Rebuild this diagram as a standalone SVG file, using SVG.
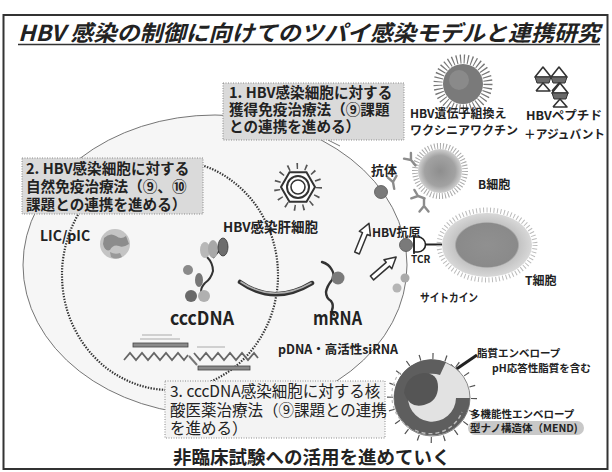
<svg xmlns="http://www.w3.org/2000/svg" width="612" height="472" viewBox="0 0 612 472">
  <style>
    .jp { font-family: "Noto Sans CJK JP", "Liberation Sans", sans-serif; fill: #222; }
    .box-text { font-size: 14.6px; font-weight: 700; }
    .lbl { font-size: 12px; font-weight: 700; }
    .small { font-size: 10.5px; font-weight: 700; }
    .box-grey { fill: #dadada; stroke: #8a8a8a; stroke-width: 1; stroke-dasharray: 1 1.5; }
    .box-light { fill: #f3f3f3; stroke: #8a8a8a; stroke-width: 1; stroke-dasharray: 1 1.5; }
    .ab { fill: none; stroke: #8c8c8c; stroke-width: 2.4; stroke-linecap: round; }
    .harrow { fill: #fff; stroke: #333; stroke-width: 1.5; stroke-linejoin: round; }
    .pep-tri { fill: #fff; stroke: #333; stroke-width: 1.6; stroke-linejoin: round; }
    .pep-band { fill: #6a6a6a; stroke: #333; stroke-width: 1; }
  </style>
  <defs>
    <path id="hollow-arrow" d="M-2.5,0 L-2.5,-21 L-6,-21 L0,-32 L6,-21 L2.5,-21 L2.5,0 Z"/>
    <path id="antibody" d="M0,7 L0,0 M0,0 L-4.5,-5.5 M0,0 L4.5,-5.5"/>
    <g id="peptide">
      <polygon class="pep-tri" points="-8,-3 0,-13 8,-3"/>
      <polygon class="pep-band" points="-8,-3 8,-3 6,3 -6,3"/>
      <polyline class="pep-tri" points="-7,11 0,3 7,11 -7,11"/>
    </g>
    <radialGradient id="cell-b" cx="0.5" cy="0.5" r="0.5">
      <stop offset="0" stop-color="#8e8e8e"/>
      <stop offset="0.7" stop-color="#a2a2a2"/>
      <stop offset="1" stop-color="#cfcfcf"/>
    </radialGradient>
    <radialGradient id="cell-t" cx="0.5" cy="0.5" r="0.5">
      <stop offset="0" stop-color="#909090"/>
      <stop offset="0.68" stop-color="#8a8a8a"/>
      <stop offset="0.72" stop-color="#c4c4c4"/>
      <stop offset="1" stop-color="#d8d8d8"/>
    </radialGradient>
  </defs>

  <rect x="0" y="0" width="612" height="472" fill="#fff"/>

  <!-- outer frame and title -->
  <rect x="3.5" y="15" width="604" height="454" fill="none" stroke="#333" stroke-width="2"/>
  <g id="title">
    <text class="jp" x="18" y="41" font-size="22" font-weight="700" font-style="italic" textLength="582" lengthAdjust="spacingAndGlyphs" fill="#333">HBV 感染の制御に向けてのツパイ感染モデルと連携研究</text>
    <line x1="18" y1="44.5" x2="600" y2="44.5" stroke="#333" stroke-width="1.6"/>
  </g>

  <!-- hepatocyte membrane and nucleus -->
  <g id="hepatocyte">
    <ellipse cx="215" cy="265" rx="192" ry="150" fill="#f6f6f6" stroke="#666" stroke-width="0.9"/>
    <ellipse cx="170" cy="275" rx="108" ry="115" fill="none" stroke="#333" stroke-width="2.2" stroke-dasharray="1.4 1.4"/>
  </g>

  <!-- connectors -->
  <g id="connectors">
    <path d="M240,282 Q274,306 312,283" fill="none" stroke="#333" stroke-width="4.5" stroke-linecap="round"/>
    <path d="M241,282 Q274,304 311,283" fill="none" stroke="#b0b0b0" stroke-width="1.6" stroke-linecap="round"/>
    <use href="#hollow-arrow" class="harrow" transform="translate(357,253) rotate(22)"/>
    <use href="#hollow-arrow" class="harrow" transform="translate(372,278) rotate(49)"/>
    <line x1="328" y1="140" x2="340" y2="146" stroke="#555" stroke-width="0.8"/>
    <path d="M477,355 L455,370" stroke="#222" stroke-width="3"/>
    <polygon points="446,376 451,364 460,372" fill="#222"/>
  </g>

  <!-- box 1 -->
  <g id="box1">
    <rect class="box-grey" x="223" y="83" width="181" height="57"/>
    <text class="jp box-text" x="229" y="98">1. HBV感染細胞に対する</text>
    <text class="jp box-text" x="229" y="115">獲得免疫治療法（⑨課題</text>
    <text class="jp box-text" x="229" y="132">との連携を進める）</text>
  </g>

  <!-- box 2 -->
  <g id="box2">
    <rect class="box-grey" x="22" y="158" width="181" height="56"/>
    <text class="jp box-text" x="26" y="174">2. HBV感染細胞に対する</text>
    <text class="jp box-text" x="26" y="192">自然免疫治療法（⑨、⑩</text>
    <text class="jp box-text" x="26" y="210">課題との連携を進める）</text>
  </g>

  <!-- vaccinia vaccine -->
  <g id="vaccinia">
    <circle cx="463" cy="84" r="25" fill="none" stroke="#777" stroke-width="9" stroke-dasharray="1.2 2.6"/>
    <circle cx="463" cy="84" r="20" fill="#7a7a7a"/>
    <circle cx="459" cy="80" r="10" fill="#8a8a8a"/>
    <text class="jp lbl" x="410" y="118">HBV遺伝子組換え</text>
    <text class="jp lbl" x="410" y="135">ワクシニアワクチン</text>
  </g>

  <!-- peptide + adjuvant -->
  <g id="peptide-adjuvant">
    <use href="#peptide" x="543" y="80"/>
    <use href="#peptide" x="559" y="80"/>
    <use href="#peptide" x="560" y="96"/>
    <text class="jp lbl" x="526" y="120" textLength="76" lengthAdjust="spacingAndGlyphs">HBVペプチド</text>
    <text class="jp lbl" x="524" y="139" textLength="81" lengthAdjust="spacingAndGlyphs">＋アジュバント</text>
  </g>

  <!-- B cell and antibodies -->
  <g id="b-cell">
    <circle cx="440" cy="171" r="25" fill="none" stroke="#aaa" stroke-width="6" stroke-dasharray="1 2"/>
    <circle cx="440" cy="171" r="22" fill="url(#cell-b)"/>
    <use href="#antibody" class="ab" transform="translate(393,182) rotate(-10)"/>
    <use href="#antibody" class="ab" transform="translate(411,160) rotate(-40)"/>
    <use href="#antibody" class="ab" transform="translate(418,196) rotate(-70)"/>
    <use href="#antibody" class="ab" transform="translate(424,206) rotate(180)"/>
    <text class="jp" x="371" y="175" font-size="13" font-weight="700">抗体</text>
    <text class="jp lbl" x="478" y="189">B細胞</text>
  </g>

  <!-- antigen on membrane -->
  <g id="antigen">
    <circle cx="381" cy="192" r="6.5" fill="#7a7a7a" stroke="#555" stroke-width="0.8"/>
    <circle cx="406" cy="245" r="6.5" fill="#7a7a7a" stroke="#555" stroke-width="0.8"/>
    <text class="jp lbl" x="372" y="237">HBV抗原</text>
  </g>

  <!-- T cell with TCR -->
  <g id="t-cell">
    <path d="M414,237 L418,237 A7.5,7.5 0 0 1 418,252 L414,252 Z" fill="#fff" stroke="#222" stroke-width="1.6"/>
    <line x1="414" y1="235" x2="414" y2="254" stroke="#222" stroke-width="1.6"/>
    <line x1="426" y1="244.5" x2="442" y2="244.5" stroke="#222" stroke-width="2"/>
    <ellipse cx="487" cy="245" rx="48" ry="35" fill="none" stroke="#bbb" stroke-width="5" stroke-dasharray="1 2.5"/>
    <ellipse cx="487" cy="245" rx="45" ry="32" fill="url(#cell-t)"/>
    <text class="jp" x="411" y="263" font-size="10" font-weight="700">TCR</text>
    <text class="jp lbl" x="525" y="285">T細胞</text>
  </g>

  <!-- cytokines -->
  <g id="cytokine">
    <circle cx="405" cy="278" r="4.5" fill="#aaa"/>
    <circle cx="397" cy="288" r="4.5" fill="#b5b5b5"/>
    <text class="jp" x="420" y="302" font-size="11.5" font-weight="700" textLength="58" lengthAdjust="spacingAndGlyphs">サイトカイン</text>
  </g>

  <!-- HBV virion in infected hepatocyte -->
  <g id="hbv-virion">
    <circle cx="298" cy="187" r="21" fill="none" stroke="#555" stroke-width="6" stroke-dasharray="1.6 7.2"/>
    <polygon points="315,187 306.5,201.7 289.5,201.7 281,187 289.5,172.3 306.5,172.3" fill="#fff" stroke="#333" stroke-width="2"/>
    <circle cx="298" cy="187" r="11" fill="none" stroke="#333" stroke-width="2"/>
    <circle cx="298" cy="187" r="7" fill="none" stroke="#333" stroke-width="1.6"/>
    <text class="jp" x="223" y="232" font-size="13.5" font-weight="700">HBV感染肝細胞</text>
  </g>

  <!-- LIC/pIC -->
  <g id="lic-pic">
    <circle cx="115" cy="244" r="15" fill="#c4c4c4"/>
    <path d="M104,238 q6,-6 12,-2 q5,4 10,0 l3,8 q-6,4 -10,2 q-6,-2 -9,4 q-5,2 -7,-6 Z" fill="#8c8c8c"/>
    <path d="M110,252 q5,3 10,1 l2,4 q-6,3 -11,0 Z" fill="#999"/>
    <text class="jp" x="40" y="241" font-size="14" font-weight="700">LIC/pIC</text>
  </g>

  <!-- cccDNA -->
  <g id="cccdna">
    <path d="M207,257 q6,6 6,14 q-2,8 -8,12 q-6,6 -3,14 M213,258 q4,-6 10,-10" fill="none" stroke="#333" stroke-width="2"/>
    <ellipse cx="205" cy="250" rx="5" ry="8" fill="#b8b8b8"/>
    <ellipse cx="213" cy="249" rx="5" ry="9" fill="#a8a8a8"/>
    <ellipse cx="223" cy="247" rx="5" ry="9" fill="#6d6d6d" stroke="#333" stroke-width="0.8"/>
    <circle cx="188" cy="270" r="5" fill="#8a8a8a"/>
    <ellipse cx="199" cy="280" rx="4" ry="7" fill="#777"/>
    <ellipse cx="191" cy="296" rx="6" ry="6" fill="#6a6a6a"/>
    <ellipse cx="204" cy="296" rx="6" ry="6" fill="#b0b0b0"/>
    <text class="jp" x="170" y="325" font-size="19" font-weight="700" textLength="64" lengthAdjust="spacingAndGlyphs">cccDNA</text>
  </g>

  <!-- mRNA -->
  <g id="mrna">
    <path d="M322,262 q7,2 10,8 q3,5 0,10 q-5,6 -6,12 q0,6 5,9 q3,4 1,9 q-1,3 2,5" fill="none" stroke="#333" stroke-width="2.4" stroke-linecap="round"/>
    <circle cx="338" cy="278" r="6.5" fill="#7a7a7a"/>
    <text class="jp" x="313" y="325" font-size="19" font-weight="700" textLength="49" lengthAdjust="spacingAndGlyphs">mRNA</text>
  </g>

  <!-- nucleic acid drugs -->
  <g id="nucleic-acid">
    <rect x="133" y="343" width="55" height="4" fill="#8a8a8a" stroke="#444" stroke-width="0.8"/>
    <line x1="142" y1="335" x2="172" y2="335" stroke="#aaa" stroke-width="1"/>
    <line x1="140" y1="339" x2="180" y2="339" stroke="#aaa" stroke-width="1"/>
    <polyline points="124,360 130,353 136,360 142,353 148,360 154,353 160,360 166,353 172,360 178,353 184,360 188,355" fill="none" stroke="#666" stroke-width="1.8"/>
    <polyline points="194,353 200,360 206,353 212,360 218,353 224,360 230,353 236,360 242,353 248,360 254,353 258,358" fill="none" stroke="#666" stroke-width="1.8"/>
    <line x1="197" y1="347" x2="225" y2="347" stroke="#aaa" stroke-width="1"/>
    <rect x="198" y="366" width="52" height="4" fill="#8a8a8a" stroke="#444" stroke-width="0.8"/>
    <path d="M189,356 L197,365" stroke="#777" stroke-width="2"/>
    <text class="jp" x="278" y="354" font-size="12.5" font-weight="700" textLength="120" lengthAdjust="spacingAndGlyphs">pDNA・高活性siRNA</text>
  </g>

  <!-- box 3 -->
  <g id="box3">
    <rect class="box-light" x="165" y="381" width="220" height="57"/>
    <text class="jp" x="170" y="397" font-size="15.5">3. cccDNA感染細胞に対する核</text>
    <text class="jp" x="170" y="416" font-size="15.5">酸医薬治療法（⑨課題との連携</text>
    <text class="jp" x="170" y="434" font-size="15.5">を進める）</text>
  </g>

  <!-- MEND particle -->
  <g id="mend">
    <circle cx="432" cy="398" r="42" fill="none" stroke="#555" stroke-width="6" stroke-dasharray="1.2 12"/>
    <circle cx="432" cy="398" r="38" fill="#e2e2e2" stroke="#888" stroke-width="1"/>
    <path d="M446,362 A38,38 0 1 0 470,398 L456,398 A24,24 0 1 1 440,375 Z" fill="#5e5e5e"/>
    <path d="M404,393 q2,-18 20,-20 q14,0 14,14 q0,14 -14,18 q-14,4 -20,-12 Z" fill="#555"/>
    <path d="M400,372 A38,38 0 0 0 410,428" fill="none" stroke="#bbb" stroke-width="1.2" stroke-dasharray="3 3"/>
    <path d="M415,430 A34,34 0 0 0 462,412" fill="none" stroke="#bdbdbd" stroke-width="1.4" stroke-dasharray="4 3"/>
    <text class="jp small" x="477" y="357">脂質エンベロープ</text>
    <text class="jp small" x="492" y="372">pH応答性脂質を含む</text>
    <text class="jp small" x="470" y="418">多機能性エンベロープ</text>
    <rect x="468" y="421" width="116" height="14" rx="7" fill="#c8c8c8"/>
    <text class="jp small" x="470" y="432">型ナノ構造体（MEND)</text>
  </g>

  <!-- footer -->
  <g id="footer">
    <text class="jp" x="173" y="464" font-size="18.5" font-weight="700" fill="#222">非臨床試験への活用を進めていく</text>
  </g>
</svg>
